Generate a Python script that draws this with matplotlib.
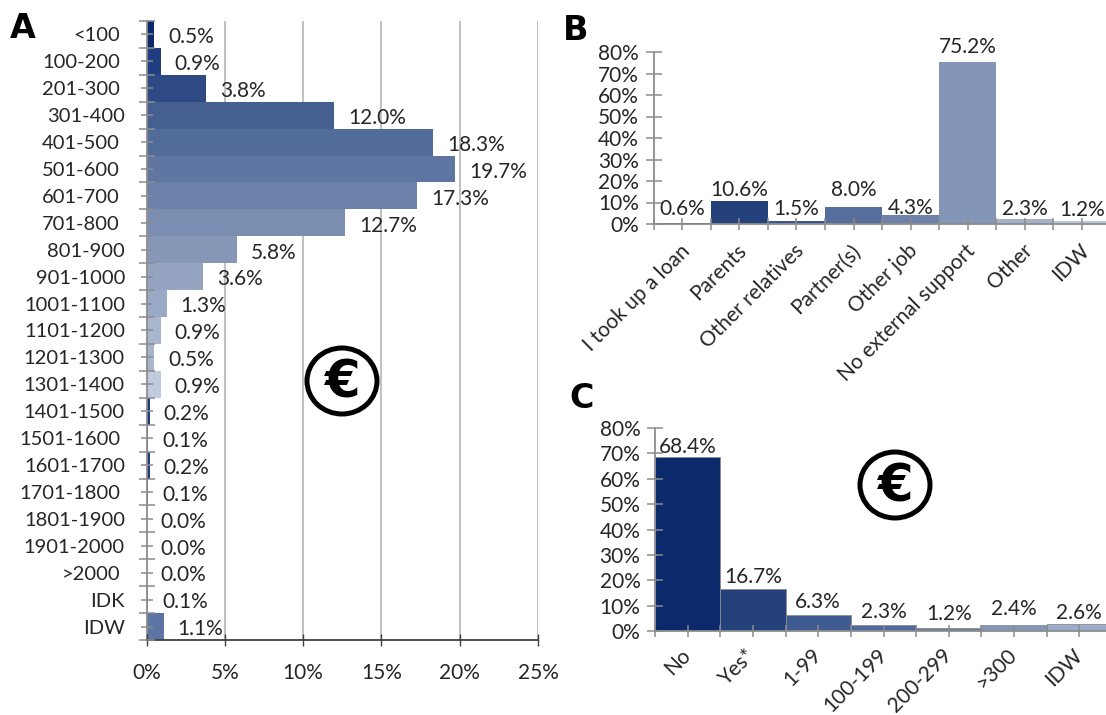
import matplotlib
matplotlib.use("Agg")
import matplotlib.pyplot as plt
from matplotlib.patches import Ellipse
from matplotlib.ticker import FuncFormatter
from matplotlib.transforms import ScaledTranslation

W, H = 1106, 715
GREY = '#8c8c8c'
TEXT = '#262626'

plt.rcParams['font.family'] = ['Lato', 'DejaVu Sans']
plt.rcParams['font.size'] = 15

# panel A: monthly income
income_labels = ['<100', '100-200', '201-300', '301-400', '401-500', '501-600', '601-700', '701-800',
                 '801-900', '901-1000', '1001-1100', '1101-1200', '1201-1300', '1301-1400', '1401-1500',
                 '1501-1600', '1601-1700', '1701-1800', '1801-1900', '1901-2000', '>2000', 'IDK', 'IDW']
income_values = [0.5, 0.9, 3.8, 12.0, 18.3, 19.7, 17.3, 12.7, 5.8, 3.6, 1.3, 0.9, 0.5, 0.9, 0.2,
                 0.1, 0.2, 0.1, 0.0, 0.0, 0.0, 0.1, 1.1]
income_colors = ['#0a2a6b', '#1f3d7f', '#2e4a84', '#465f91', '#526c9a', '#5e76a1', '#6c81a9', '#7a8eb2',
                 '#8797b8', '#94a4c1', '#9aa9c6', '#a9b6d0', '#aab5cd', '#c1cbdf', '#1a3a80',
                 '#26447f', '#1f3d80', '#3a5590', '#465f91', '#526c9a', '#5e76a1', '#6c81a9', '#5d75a5']
income_shifted = ['<100', '100-200', '201-300', '401-500', '501-600', '601-700', '701-800',
                  '1501-1600', '1701-1800', '>2000']

# panel B: external support
support_labels = ['I took up a loan', 'Parents', 'Other relatives', 'Partner(s)', 'Other job',
                  'No external support', 'Other', 'IDW']
support_values = [0.6, 10.6, 1.5, 8.0, 4.3, 75.2, 2.3, 1.2]
support_colors = ['#0a2a6b', '#25417c', '#3d5690', '#556e9c', '#6d82a9', '#8496b7', '#a3b1cb', '#bcc7dc']
support_label_dy = [3, 1, 1, 5, -2, 4, 0, 1]

# panel C: loan amount
loan_labels = ['No', 'Yes*', '1-99', '100-199', '200-299', '>300', 'IDW']
loan_values = [68.4, 16.7, 6.3, 2.3, 1.2, 2.4, 2.6]
loan_colors = ['#0a2a6b', '#25417c', '#3f5a8e', '#4f6a9c', '#637ba8', '#8496b7', '#9dacc9']
loan_label_dy = [0, 1, 2, 2, 3, 4, 1]


def px_axes(fig, left, top, right, bottom):
    return fig.add_axes([left / W, 1 - bottom / H, (right - left) / W, (bottom - top) / H])


def style_axes(ax):
    for side in ['top', 'right']:
        ax.spines[side].set_visible(False)
    for side in ['left', 'bottom']:
        ax.spines[side].set_color(GREY)
        ax.spines[side].set_linewidth(1.3)
    ax.set_axisbelow(False)


def percent(value, pos):
    return f"{value:.0f}%"


def plot_income(ax):
    positions = list(range(len(income_values)))
    ax.barh(positions, income_values, height=1.0, color=income_colors, linewidth=0, zorder=2)
    ax.set_xlim(0, 25)
    ax.set_ylim(len(income_values) - 0.5, -0.5)
    ax.set_xticks([0, 5, 10, 15, 20, 25])
    ax.xaxis.set_major_formatter(FuncFormatter(percent))
    ax.set_yticks(positions)
    ax.set_yticklabels(income_labels, fontsize=14.5)
    ax.set_yticks([p - 0.5 for p in positions] + [len(positions) - 0.5], minor=True)
    for x in ax.get_xticks()[1:]:
        ax.axvline(x, color='#b5b5b5', linewidth=1.2, zorder=1)
    style_axes(ax)
    ax.spines['bottom'].set_color('#404040')
    ax.tick_params(axis='y', which='major', direction='inout', length=8, width=1.1, color=GREY,
                   labelcolor=TEXT, pad=11.5)
    ax.tick_params(axis='y', which='minor', direction='inout', length=11, width=1.1, color=GREY)
    ax.tick_params(axis='x', direction='inout', length=9, width=1, color='#404040', labelcolor=TEXT, pad=12)
    for tick, label in zip(ax.yaxis.get_major_ticks(), income_labels):
        if label in income_shifted:
            tick.set_pad(15)
    for pos, value in zip(positions, income_values):
        ax.annotate(f"{value:.1f}%", (value, pos), xytext=(10, -2), textcoords='offset points',
                    ha='left', va='center', color=TEXT, zorder=3)


def plot_columns(ax, labels, values, colors, label_dy, label_dx, label_pad, edge):
    positions = list(range(len(values)))
    ax.bar(positions, values, width=1.0, color=colors, edgecolor=edge, linewidth=0.6, zorder=2)
    ax.set_xlim(-0.5, len(values) - 0.5)
    ax.set_ylim(0, 80)
    ax.set_yticks(list(range(0, 90, 10)))
    ax.yaxis.set_major_formatter(FuncFormatter(percent))
    ax.set_xticks(positions)
    ax.set_xticklabels(labels, rotation=45, ha='right', va='center', rotation_mode='anchor')
    ax.set_xticks([p - 0.5 for p in positions], minor=True)
    style_axes(ax)
    ax.tick_params(axis='y', direction='inout', length=11, width=1.1, color=GREY, labelcolor=TEXT, pad=5)
    ax.tick_params(axis='x', which='both', direction='inout', length=9, width=1.1, color=GREY,
                   labelcolor=TEXT, pad=label_pad)
    shift = ScaledTranslation(label_dx / 72, 0, ax.figure.dpi_scale_trans)
    for label in ax.get_xticklabels():
        label.set_transform(label.get_transform() + shift)
    for pos, value, dy in zip(positions, values, label_dy):
        ax.annotate(f"{value:.1f}%", (pos, value), xytext=(0, dy), textcoords='offset points',
                    ha='center', va='bottom', color=TEXT, zorder=3, annotation_clip=False)


def draw_euro(overlay, cx, cy):
    overlay.add_patch(Ellipse((cx, cy), 70, 66, fill=False, edgecolor='black', linewidth=3.6))
    overlay.text(cx, cy + 3, '€', ha='center', va='center', fontsize=37, fontweight='bold',
                 family='DejaVu Sans', color='black')


fig = plt.figure(figsize=(W / 100, H / 100), dpi=100)

ax_a = px_axes(fig, 146.5, 21, 538, 640)
plot_income(ax_a)

ax_b = px_axes(fig, 653.7, 52, 1110.5, 224)
plot_columns(ax_b, support_labels, support_values, support_colors, support_label_dy, 3, 12.5, 'none')

ax_c = px_axes(fig, 655, 428, 1112, 631)
plot_columns(ax_c, loan_labels, loan_values, loan_colors, loan_label_dy, 0, 10.5, '#8c8c8c')

# letters and euro signs sit on a pixel-sized overlay
overlay = fig.add_axes([0, 0, 1, 1], facecolor='none')
overlay.set_xlim(0, W)
overlay.set_ylim(H, 0)
overlay.axis('off')
for letter, x, y in [('A', 23, 28), ('B', 576, 30), ('C', 582, 399)]:
    overlay.text(x, y, letter, ha='center', va='center', fontsize=24, fontweight='bold',
                 family='DejaVu Sans', color='black')
draw_euro(overlay, 342, 381)
draw_euro(overlay, 895, 485)

fig.savefig('out.png', dpi=100)
